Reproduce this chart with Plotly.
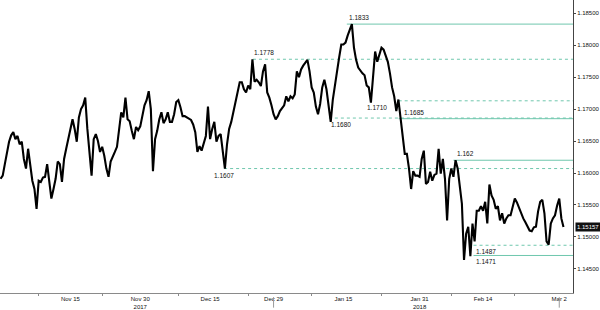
import pandas as pd
import plotly.graph_objects as go

# ---- data -------------------------------------------------------------
# sampling: three readings per business day (00h, 08h, 16h), 31 Oct 2017 - 2 Mar 2018
days = pd.bdate_range("2017-10-31", "2018-03-02")
sample_hours = [0, 8, 16]

price = [
    1.1591, 1.1596, 1.1614, 1.1633, 1.1649, 1.1659, 1.1664, 1.1653, 1.1658, 1.1645,
    1.1649, 1.1622, 1.1607, 1.1638, 1.1614, 1.1588, 1.1575, 1.1544, 1.1588, 1.1586,
    1.1593, 1.1594, 1.1614, 1.1591, 1.1560, 1.1575, 1.1591, 1.1618, 1.1614, 1.1586,
    1.1622, 1.1638, 1.1653, 1.1669, 1.1684, 1.1669, 1.1649, 1.1687, 1.1700, 1.1706,
    1.1718, 1.1669, 1.1638, 1.1596, 1.1653, 1.1661, 1.1650, 1.1633, 1.1641, 1.1627,
    1.1607, 1.1594, 1.1618, 1.1627, 1.1633, 1.1641, 1.1673, 1.1695, 1.1687, 1.1718,
    1.1684, 1.1681, 1.1666, 1.1653, 1.1672, 1.1667, 1.1673, 1.1687, 1.1706, 1.1714,
    1.1728, 1.1700, 1.1603, 1.1653, 1.1666, 1.1684, 1.1695, 1.1678, 1.1684, 1.1695,
    1.1680, 1.1680, 1.1692, 1.1711, 1.1714, 1.1703, 1.1689, 1.1689, 1.1687, 1.1684,
    1.1683, 1.1676, 1.1664, 1.1633, 1.1642, 1.1635, 1.1645, 1.1658, 1.1704, 1.1653,
    1.1669, 1.1680, 1.1649, 1.1658, 1.1661, 1.1630, 1.1607, 1.1645, 1.1669, 1.1680,
    1.1695, 1.1711, 1.1728, 1.1742, 1.1742, 1.1731, 1.1726, 1.1737, 1.1731, 1.1778,
    1.1743, 1.1746, 1.1742, 1.1736, 1.1759, 1.1770, 1.1726, 1.1718, 1.1706, 1.1692,
    1.1684, 1.1689, 1.1697, 1.1701, 1.1706, 1.1720, 1.1712, 1.1720, 1.1717, 1.1723,
    1.1759, 1.1750, 1.1762, 1.1768, 1.1773, 1.1777, 1.1759, 1.1734, 1.1726, 1.1704,
    1.1692, 1.1708, 1.1734, 1.1746, 1.1731, 1.1708, 1.1680, 1.1715, 1.1734, 1.1759,
    1.1781, 1.1801, 1.1801, 1.1804, 1.1815, 1.1823, 1.1833, 1.1796, 1.1777, 1.1765,
    1.1760, 1.1756, 1.1753, 1.1737, 1.1734, 1.1710, 1.1750, 1.1790, 1.1774, 1.1785,
    1.1796, 1.1793, 1.1782, 1.1774, 1.1756, 1.1734, 1.1720, 1.1697, 1.1715, 1.1685,
    1.1661, 1.1630, 1.1630, 1.1607, 1.1575, 1.1603, 1.1596, 1.1596, 1.1594, 1.1622,
    1.1635, 1.1583, 1.1586, 1.1602, 1.1588, 1.1597, 1.1599, 1.1638, 1.1599, 1.1622,
    1.1591, 1.1526, 1.1591, 1.1607, 1.1594, 1.1620, 1.1607, 1.1582, 1.1552, 1.1464,
    1.1505, 1.1516, 1.1470, 1.1521, 1.1493, 1.1541, 1.1541, 1.1548, 1.1541, 1.1555,
    1.1521, 1.1582, 1.1565, 1.1558, 1.1544, 1.1548, 1.1526, 1.1537, 1.1521, 1.1529,
    1.1534, 1.1534, 1.1548, 1.1560, 1.1554, 1.1546, 1.1535, 1.1529, 1.1523, 1.1515,
    1.1510, 1.1509, 1.1515, 1.1516, 1.1540, 1.1555, 1.1558, 1.1537, 1.1493, 1.1488,
    1.1521, 1.1529, 1.1534, 1.1549, 1.1560, 1.1529, 1.15157,
]
last_price_text = "1.15157"

# x-axis labels
tick_dates = ["2017-11-15", "2017-11-30", "2017-12-15", "2017-12-29",
              "2018-01-15", "2018-01-31", "2018-02-14", "2018-03-02"]
tick_text = ["Nov 15", "Nov 30<br>2017", "Dec 15", "Dec 29",
             "Jan 15", "Jan 31<br>2018", "Feb 14", "Mar 2"]
minor_tick_dates = ["2017-11-08", "2017-11-22", "2017-12-08", "2017-12-25",
                    "2018-01-08", "2018-01-23", "2018-02-07", "2018-02-21"]
marker_dates = ["2017-12-29", "2018-03-02"]

# y-axis labels
y_ticks = [1.145, 1.150, 1.155, 1.160, 1.165, 1.170, 1.175, 1.180, 1.185]

# annotated support / resistance levels
level_text = ["1.1833", "1.1778", "1.1710", "1.1685", "1.1680", "1.162", "1.1607", "1.1487", "1.1471"]
level_value = [1.1833, 1.1778, 1.1713, 1.1685, 1.1686, 1.1620, 1.1607, 1.1487, 1.1471]
level_dash = ["solid", "dash", "dash", "solid", "dash", "solid", "dash", "dash", "solid"]
level_line_start = ["2018-01-15 13:00", "2017-12-25 18:00", "2018-01-25 17:00",
                    "2018-01-25 17:00", "2018-01-10 17:00", "2018-02-07 08:00",
                    "2017-12-19 05:00", "2018-02-12 12:00", "2018-02-12 12:00"]
level_label_at = ["2018-01-15 12:00", "2017-12-25 16:00", "2018-01-18 10:00",
                  "2018-01-26 06:00", "2018-01-10 17:00", "2018-02-07 14:00",
                  "2017-12-15 07:00", "2018-02-12 12:00", "2018-02-12 12:00"]
level_label_side = ["above", "above", "below", "above", "below", "above", "below", "below", "below"]

x_range = ["2017-10-30 21:45", "2018-03-06 04:00"]
y_range = [1.14123, 1.18707]

# ---- figure -----------------------------------------------------------
times = [d + pd.Timedelta(hours=h) for d in days for h in sample_hours]

fig = go.Figure()
fig.add_trace(go.Scatter(x=times, y=price, mode="lines",
                         line=dict(color="#000000", width=2.1),
                         hoverinfo="skip", showlegend=False))

LEVEL_COLOR = "#6fc7ad"
for txt, val, dash, x0, xl, side in zip(level_text, level_value, level_dash,
                                        level_line_start, level_label_at, level_label_side):
    fig.add_shape(type="line", xref="x", yref="y", x0=x0, x1=x_range[1], y0=val, y1=val,
                  line=dict(color=LEVEL_COLOR, width=1, dash=dash if dash == "solid" else "3px,3px"),
                  layer="below")
    fig.add_annotation(x=xl, y=val, xref="x", yref="y", text=txt, showarrow=False,
                       xanchor="left", yanchor="bottom" if side == "above" else "top",
                       yshift=1 if side == "above" else -1,
                       font=dict(family="Liberation Sans", size=6.5, color="#111111"))

for d in marker_dates:
    fig.add_shape(type="line", xref="x", yref="paper", x0=d, x1=d, y0=-0.014, y1=-0.05,
                  line=dict(color="#999999", width=1))

fig.add_annotation(xref="paper", x=1.0, yref="y", y=price[-1], text=last_price_text,
                   showarrow=False, xanchor="left", yanchor="middle", xshift=2,
                   bgcolor="#111111", borderpad=1,
                   font=dict(family="Liberation Sans", size=6, color="white"))

fig.update_layout(
    width=600, height=310,
    margin=dict(l=0, r=25, t=0, b=14),
    paper_bgcolor="white", plot_bgcolor="white",
    font=dict(family="Liberation Sans", size=6, color="#111111"),
    showlegend=False,
)
fig.update_xaxes(
    type="date", range=x_range,
    rangebreaks=[dict(bounds=["sat", "mon"])],
    tickmode="array", tickvals=tick_dates, ticktext=tick_text,
    ticks="", showgrid=False, zeroline=False,
    showline=True, linecolor="#8a8a8a", linewidth=1,
    tickfont=dict(size=6, color="#111111"),
    minor=dict(tickmode="array", tickvals=minor_tick_dates, ticks="outside",
               ticklen=2, tickcolor="#8a8a8a", showgrid=False),
)
fig.update_yaxes(
    side="right", range=y_range,
    tickmode="array", tickvals=y_ticks, tickformat=".5f",
    ticks="outside", ticklen=2, tickcolor="#444444",
    showgrid=False, zeroline=False,
    showline=True, linecolor="#444444", linewidth=1,
    tickfont=dict(size=6, color="#111111"),
)

fig.write_html("out.html")
